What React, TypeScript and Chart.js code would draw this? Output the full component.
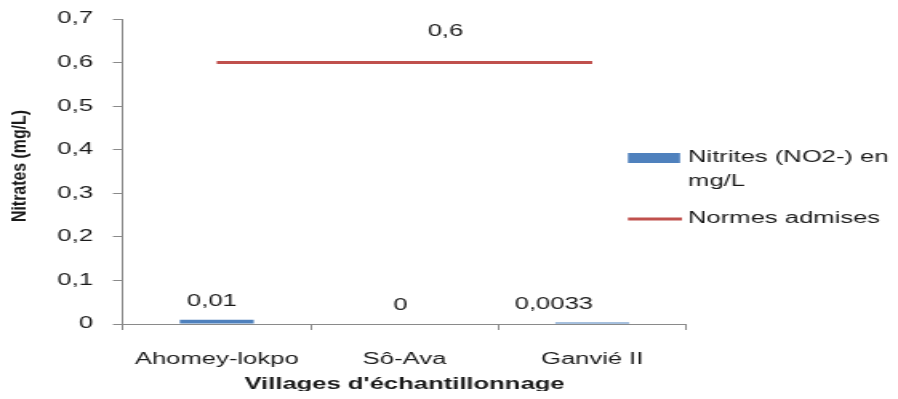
import React, { useEffect, useRef } from 'react';
import { Chart, registerables } from 'chart.js';

Chart.register(...registerables);

// ---- data ----
const categories = ['Ahomey-lokpo', 'Sô-Ava', 'Ganvié II'];
const nitrites = [0.01, 0, 0.0033];
const normes = [0.6, 0.6, 0.6];
const seriesNames = ['Nitrites (NO2-) en mg/L', 'Normes admises'];
const legendLines = [['Nitrites (NO2-) en', 'mg/L'], ['Normes admises']];
const lineLabelIndexes = [1];
const yMin = 0;
const yMax = 0.7;
const yStep = 0.1;
const xTitle = "Villages d'échantillonnage";
const yTitle = 'Nitrates (mg/L)';

// ---- style ----
const W = 551;
const H = 383;
const CSS_W = 882;
const BLUE = '#4F81BD';
const RED = '#C0504D';
const AXIS = '#8a8a8a';
const TEXT = '#1a1a1a';
const FONT = '"Liberation Sans", Arial, sans-serif';
const barLabelDx = [-3, -2.5, -24];
const lineLabelDx = 25.6;

const fmt = (v: number) => String(Number(Number(v).toFixed(4))).replace('.', ',');

const overlay = {
  id: 'overlay',
  afterDraw(chart: any) {
    const ctx = chart.ctx as CanvasRenderingContext2D;
    ctx.save();
    ctx.fillStyle = TEXT;
    ctx.font = `16px ${FONT}`;
    ctx.textAlign = 'center';
    ctx.textBaseline = 'middle';

    const barMeta = chart.getDatasetMeta(0);
    barMeta.data.forEach((el: any, i: number) => {
      ctx.fillText(fmt(nitrites[i]), el.x + barLabelDx[i], el.y - 18);
    });
    const lineMeta = chart.getDatasetMeta(1);
    lineLabelIndexes.forEach((i) => {
      const el = lineMeta.data[i];
      ctx.fillText(fmt(normes[i]), el.x + lineLabelDx, el.y - 30.6);
    });

    // y title
    ctx.save();
    ctx.translate(7.5, 158);
    ctx.rotate(-Math.PI / 2);
    ctx.font = `bold 12px ${FONT}`;
    const w = ctx.measureText(yTitle).width;
    ctx.scale(112 / w, 1);
    ctx.fillText(yTitle, 0, 0);
    ctx.restore();

    // legend
    const lx = 387.3;
    const tx = 424.8;
    ctx.font = `16px ${FONT}`;
    ctx.textAlign = 'left';
    ctx.fillStyle = BLUE;
    ctx.fillRect(lx, 145, 32.5, 10);
    ctx.fillStyle = TEXT;
    ctx.fillText(legendLines[0][0], tx, 150);
    ctx.fillText(legendLines[0][1], tx, 174);
    ctx.strokeStyle = RED;
    ctx.lineWidth = 3;
    ctx.beginPath();
    ctx.moveTo(lx, 211);
    ctx.lineTo(421, 211);
    ctx.stroke();
    ctx.fillText(legendLines[1][0], tx, 211);
    ctx.restore();
  },
};

export default function App() {
  const ref = useRef<HTMLCanvasElement>(null);
  useEffect(() => {
    const canvas = ref.current!;
    const chart = new Chart(canvas, {
      type: 'bar',
      data: {
        labels: categories,
        datasets: [
          {
            type: 'bar',
            label: seriesNames[0],
            data: nitrites,
            backgroundColor: BLUE,
            barPercentage: 0.394,
            categoryPercentage: 1,
            order: 2,
          },
          {
            type: 'line',
            label: seriesNames[1],
            data: normes,
            borderColor: RED,
            backgroundColor: RED,
            borderWidth: 3,
            pointRadius: 0,
            fill: false,
            order: 1,
          } as any,
        ],
      },
      options: {
        animation: false,
        responsive: false,
        devicePixelRatio: 1,
        layout: { padding: { left: 0, right: 127.4, top: 11, bottom: 0 } },
        plugins: { legend: { display: false }, tooltip: { enabled: false } },
        scales: {
          x: {
            grid: { display: true, drawOnChartArea: false, tickLength: 6, color: AXIS, offset: true },
            border: { color: AXIS },
            ticks: { font: { family: FONT, size: 16 }, color: TEXT, padding: 20, maxRotation: 0 },
            title: {
              display: true,
              text: xTitle,
              font: { family: FONT, size: 16, weight: 'bold' },
              color: TEXT,
              padding: { top: 0, bottom: -3 },
            },
            afterFit: (s: any) => {
              s.height = 67;
              s.paddingLeft = 0;
              s.paddingRight = 0;
            },
          },
          y: {
            min: yMin,
            max: yMax,
            ticks: {
              stepSize: yStep,
              font: { family: FONT, size: 16 },
              color: TEXT,
              padding: 12.5,
              callback: (v: any) => fmt(v),
            },
            grid: { drawOnChartArea: false, tickLength: 6.25, color: AXIS },
            border: { color: AXIS },
            afterFit: (s: any) => {
              s.width = 71.8;
              s.paddingTop = 0;
              s.paddingBottom = 0;
            },
          },
        },
      } as any,
      plugins: [overlay],
    });
    return () => chart.destroy();
  }, []);
  return (
    <canvas
      ref={ref}
      width={W}
      height={H}
      style={{ width: `${CSS_W}px`, height: `${H}px`, display: 'block' }}
    />
  );
}
